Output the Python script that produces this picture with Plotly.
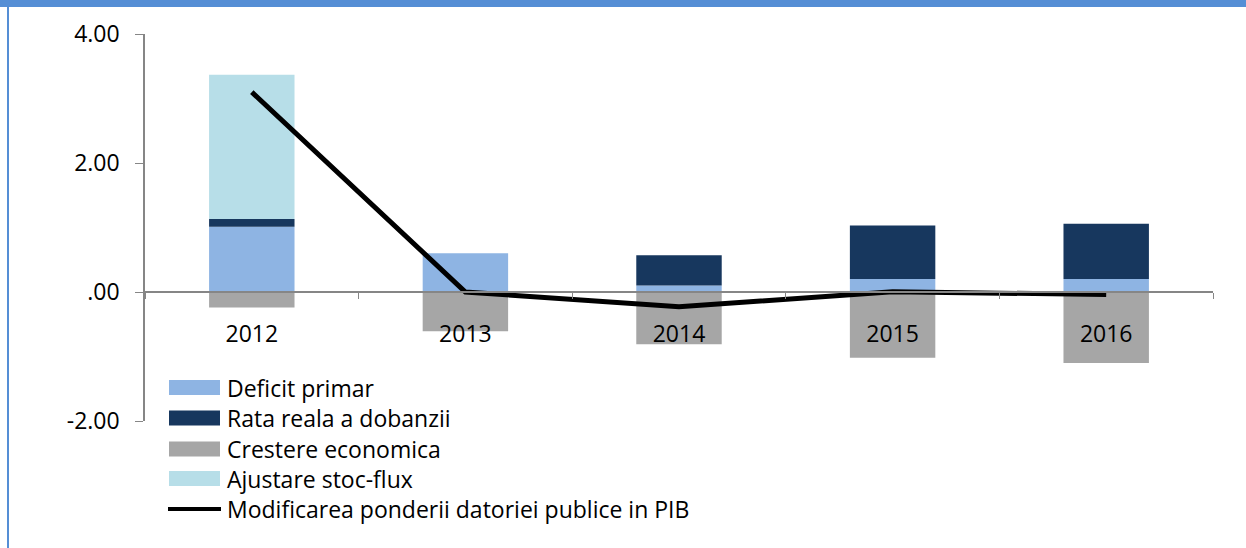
import plotly.graph_objects as go

years = ["2012", "2013", "2014", "2015", "2016"]
deficit_primar = [1.01, 0.60, 0.10, 0.20, 0.20]
rata_reala = [0.12, 0.00, 0.47, 0.83, 0.86]
crestere_economica = [-0.24, -0.61, -0.81, -1.02, -1.10]
ajustare_stoc_flux = [2.24, 0.00, 0.00, 0.00, 0.00]
modificarea_ponderii = [3.10, 0.00, -0.23, 0.005, -0.04]

bar_names = ["Deficit primar", "Rata reala a dobanzii", "Crestere economica", "Ajustare stoc-flux"]
bar_colors = ["#8EB4E3", "#17375E", "#A6A6A6", "#B7DEE8"]
line_name = "Modificarea ponderii datoriei publice in PIB"

y_tickvals = [-2, 0, 2, 4]
y_ticktext = ["-2.00", ".00", "2.00", "4.00"]

FONT = "Open Sans"
FS = 23
TFS = 23
AXIS = "#868686"
BLUE = "#558ED5"

# plot area geometry (pixels) used for paper-coordinate conversion of decorations
L, R, T, B = 145, 33, 34, 127
W, H = 1246, 548
PW, PH = W - L - R, H - T - B


def px_x(x):
    return (x - L) / PW


def px_y(y):
    return (H - B - y) / PH


fig = go.Figure()
for name, vals, col in zip(bar_names,
                           [deficit_primar, rata_reala, crestere_economica, ajustare_stoc_flux],
                           bar_colors):
    fig.add_trace(go.Bar(name=name, x=years, y=vals, marker_color=col, marker_line_width=0))
fig.add_trace(go.Scatter(name=line_name, x=years, y=modificarea_ponderii, mode="lines",
                         line=dict(color="black", width=5)))

# custom legend (wide swatches like the original)
shapes = [
    dict(type="rect", xref="paper", yref="paper", x0=-0.2, x1=1.1,
         y0=px_y(7), y1=px_y(-5), fillcolor=BLUE, line_width=0, layer="above"),
    dict(type="line", xref="paper", yref="paper", x0=px_x(8), x1=px_x(8),
         y0=px_y(560), y1=px_y(-5), line=dict(color=BLUE, width=2), layer="above"),
]
annotations = []
row_y = [387.5, 418, 449, 478.5, 509]
for i, (name, col) in enumerate(zip(bar_names, bar_colors)):
    yc = row_y[i]
    shapes.append(dict(type="rect", xref="paper", yref="paper",
                       x0=px_x(169), x1=px_x(220), y0=px_y(yc + 7.5), y1=px_y(yc - 7.5),
                       fillcolor=col, line_width=0, layer="above"))
    annotations.append(dict(text=name, xref="paper", yref="paper", x=px_x(225), y=px_y(yc),
                            xanchor="left", yanchor="middle", showarrow=False,
                            font=dict(family=FONT, size=FS, color="black")))
yc = row_y[4]
shapes.append(dict(type="line", xref="paper", yref="paper", x0=px_x(168), x1=px_x(221),
                   y0=px_y(yc), y1=px_y(yc), line=dict(color="black", width=4), layer="above"))
annotations.append(dict(text=line_name, xref="paper", yref="paper", x=px_x(225), y=px_y(yc),
                        xanchor="left", yanchor="middle", showarrow=False,
                        font=dict(family=FONT, size=FS, color="black")))

fig.update_layout(
    width=W, height=H,
    margin=dict(l=L, r=R, t=T, b=B),
    paper_bgcolor="white", plot_bgcolor="white",
    barmode="relative", bargap=0.6,
    font=dict(family=FONT, size=FS, color="black"),
    showlegend=False,
    xaxis=dict(type="category", anchor="free", position=1/3,
               showline=True, linecolor=AXIS, linewidth=1.5,
               ticks="outside", tickson="boundaries", ticklen=6, tickcolor=AXIS,
               showgrid=False, zeroline=False, ticklabelstandoff=22,
               tickfont=dict(size=TFS, family=FONT)),
    yaxis=dict(range=[-2, 4], tickvals=y_tickvals, ticktext=y_ticktext,
               showline=True, linecolor=AXIS, linewidth=1.5,
               ticks="outside", ticklen=8, tickcolor=AXIS,
               showgrid=False, zeroline=False, ticklabelstandoff=11,
               tickfont=dict(size=TFS, family=FONT)),
    shapes=shapes,
    annotations=annotations,
)

fig.write_html("out.html", config={"displayModeBar": False},
               post_script="document.body.style.margin='0';")
